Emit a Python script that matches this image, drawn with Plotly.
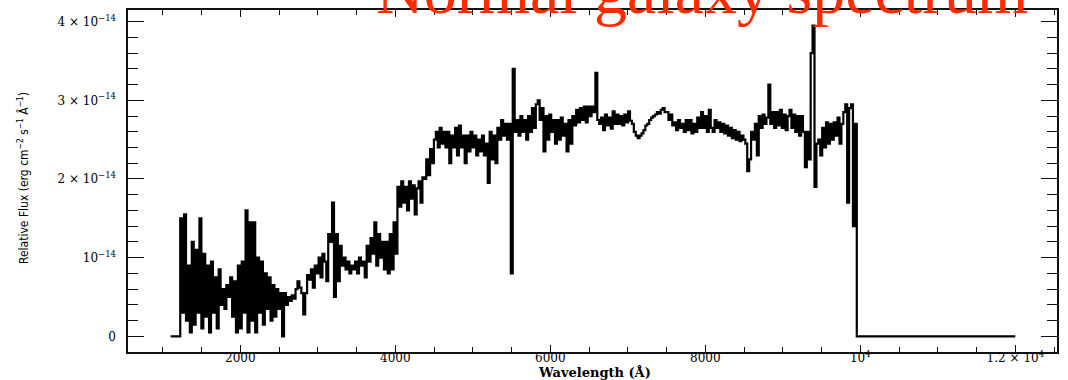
import plotly.graph_objects as go

# ---------------- data (flux in units of 1e-14 erg cm^-2 s^-1 A^-1) ----------------
WL_START = 1225.0      # first binned wavelength (A)
WL_STEP = 24.8         # bin width (A)
LEAD_WL, LEAD_FLUX = 1100.0, 0.0
TAIL_WL, TAIL_FLUX = 12000.0, 0.0

FLUX_UV = [
    1.5, 0.3, 1.55, 0.2, 0.9, 0.05, 1.2, 0.15, 1.1, 0.3,
    1.5, 0.1, 1.05, 0.25, 0.9, 0.05, 0.95, 0.3, 0.75, 0.1,
    0.85, 0.4, 0.6, 0.35, 0.65, 0.5, 0.75, 0.25, 0.7, 0.05,
    0.9, 0.1, 0.95, 0.3, 1.6, 0.05, 1.45, 0.2, 1.45, 0.05,
    1.0, 0.3, 0.95, 0.15, 0.8, 0.35, 0.75, 0.2, 0.65, 0.25,
    0.6, 0.35, 0.55, 0.0, 0.55, 0.4, 0.5,
]
FLUX_NUV = [0.45, 0.52, 0.48, 0.6, 0.7, 0.62, 0.55, 0.28, 0.55, 0.78, 0.72, 0.85, 0.62, 0.9, 0.8, 1.0]
FLUX_BLUE = [
    0.75, 1.05, 0.95, 0.7, 1.3, 1.2, 1.7, 0.5, 1.3, 0.7,
    1.15, 0.9, 1.0, 0.85, 0.95, 0.8, 0.9, 0.85, 0.95, 0.8,
    1.0, 0.9, 0.95, 0.75, 1.15, 0.95, 1.25, 1.05, 1.45, 0.9,
    1.3, 1.0, 1.2, 0.85, 1.2, 0.8, 1.3, 0.85, 1.45, 1.05,
]
FLUX_BREAK = [
    1.9, 1.65, 1.97, 1.7, 1.9, 1.6, 1.97, 1.75, 1.92, 1.55,
    1.88, 1.97, 1.7, 2.02, 2.0, 2.25, 2.05, 2.38, 2.2, 2.5,
]
FLUX_GREEN = [
    2.6, 2.4, 2.65, 2.45, 2.6, 2.4, 2.6, 2.2, 2.55, 2.4,
    2.65, 2.3, 2.68, 2.4, 2.55, 2.2, 2.55, 2.35, 2.6, 2.4,
    2.55, 2.3, 2.5, 2.35, 2.55, 2.3, 2.45, 1.95, 2.6, 2.25,
    2.55, 2.2, 2.65, 2.5, 2.75, 2.55, 2.7, 2.5, 2.7, 0.8,
    3.4, 2.6,
]
FLUX_RED = [
    2.75, 2.55, 2.8, 2.6, 2.75, 2.5, 2.8, 2.6, 2.9, 2.65,
    2.95, 3.0, 2.75, 2.9, 2.35, 2.8, 2.5, 2.82, 2.6, 2.75,
    2.45, 2.75, 2.5, 2.78, 2.55, 2.7, 2.35, 2.75, 2.45, 2.8,
    2.68, 2.88, 2.72, 2.9, 2.75, 2.92, 2.72, 2.92, 2.8, 2.92,
    2.85, 3.35, 2.75,
]
FLUX_FARRED = [
    2.7, 2.78, 2.62, 2.82, 2.68, 2.78, 2.64, 2.86, 2.7, 2.82,
    2.7, 2.8, 2.68, 2.82, 2.72, 2.86, 2.74, 2.7, 2.6, 2.55,
    2.52, 2.55, 2.58, 2.62, 2.68, 2.7, 2.75, 2.78, 2.8, 2.82,
    2.85, 2.83, 2.88, 2.9, 2.85,
]
FLUX_NIR1 = [
    2.85, 2.75, 2.82, 2.68, 2.72, 2.62, 2.75, 2.65, 2.7, 2.6,
    2.75, 2.62, 2.75, 2.58, 2.7, 2.6, 2.78, 2.65, 2.85, 2.65,
    2.8, 2.6, 2.88, 2.65, 2.6, 2.75, 2.65, 2.72, 2.6, 2.7,
    2.58, 2.68, 2.55, 2.65, 2.52, 2.62, 2.5, 2.6, 2.48, 2.55,
]
FLUX_NIR2 = [
    2.5, 2.45, 2.1, 2.25, 2.6, 2.5, 2.7, 2.3, 2.8, 2.65,
    2.82, 2.7, 2.78, 3.2, 2.7, 2.85, 2.65, 2.85, 2.68, 2.88,
    2.65, 2.82, 2.62, 2.8, 2.88, 2.65, 2.82, 2.6, 2.8, 2.55,
    2.8, 2.6, 2.15, 2.6, 2.25, 3.6, 3.95, 1.9, 2.45, 2.5,
    2.3, 2.65, 2.4, 2.72, 2.45, 2.7, 2.5, 2.72, 2.55, 2.78,
    2.45, 2.7, 2.85, 2.95, 1.7, 2.9, 2.95, 1.4, 2.7, 0.0,
]

X_TICKS = [2000, 4000, 6000, 8000, 10000, 12000]
X_TICK_LABELS = ["2000", "4000", "6000", "8000", "10<sup>4</sup>", "1.2 × 10<sup>4</sup>"]
Y_TICKS = [0, 1, 2, 3, 4]
Y_TICK_LABELS = ["0", "10<sup>−14</sup>", "2 × 10<sup>−14</sup>",
                 "3 × 10<sup>−14</sup>", "4 × 10<sup>−14</sup>"]

TITLE = "Normal galaxy spectrum"
X_TITLE = "<b>Wavelength (Å)</b>"
Y_TITLE = "Relative Flux (erg cm<sup>−2</sup> s<sup>−1</sup> Å<sup>−1</sup>)"

# ---------------- build ----------------
flux = (FLUX_UV + FLUX_NUV + FLUX_BLUE + FLUX_BREAK + FLUX_GREEN
        + FLUX_RED + FLUX_FARRED + FLUX_NIR1 + FLUX_NIR2)
wl = [WL_START + WL_STEP * i for i in range(len(flux))]
xs = [LEAD_WL] + wl + [TAIL_WL]
ys = [LEAD_FLUX] + flux + [TAIL_FLUX]

W, H = 1068, 380
ML, MR, MT, MB = 128, 11, 8, 28
PW, PH = W - ML - MR, H - MT - MB

def px(xpix):
    return (xpix - ML) / PW

def py(ypix):
    return 1 - (ypix - MT) / PH

fig = go.Figure(go.Scatter(
    x=xs, y=ys, mode="lines", line=dict(color="black", width=2.2, shape="hv"),
    hoverinfo="skip", showlegend=False))

axis_common = dict(
    showline=True, linecolor="#111", linewidth=1.6, mirror="ticks",
    ticks="inside", tickcolor="#111", tickwidth=1.2,
    showgrid=False, zeroline=False,
    tickfont=dict(family="DejaVu Serif", size=12, color="black"),
)

fig.update_layout(
    width=W, height=H, autosize=False,
    margin=dict(l=ML, r=MR, t=MT, b=MB, pad=0),
    paper_bgcolor="white", plot_bgcolor="white",
    xaxis=dict(axis_common, range=[551, 12538], tickvals=X_TICKS, ticktext=X_TICK_LABELS,
               ticklen=7, ticklabelstandoff=-6,
               minor=dict(ticks="inside", ticklen=5, dtick=500, tick0=0,
                          tickcolor="#111", tickwidth=1.2, showgrid=False)),
    yaxis=dict(axis_common, range=[-0.199, 4.148], tickvals=Y_TICKS, ticktext=Y_TICK_LABELS,
               ticklen=16, ticklabelstandoff=8,
               minor=dict(ticks="inside", ticklen=10, dtick=0.2, tick0=0,
                          tickcolor="#111", tickwidth=1.2, showgrid=False)),
    annotations=[
        dict(text=TITLE, xref="paper", yref="paper", x=px(702), y=py(-12),
             xanchor="center", yanchor="middle", showarrow=False,
             font=dict(family="Liberation Serif", size=66, color="#ff2a00")),
        dict(text=X_TITLE, xref="paper", yref="paper", x=px(594), y=py(373),
             xanchor="center", yanchor="middle", showarrow=False, borderpad=0,
             font=dict(family="DejaVu Serif", size=13, color="black")),
        dict(text=Y_TITLE, xref="paper", yref="paper", x=px(23), y=py(177),
             xanchor="center", yanchor="middle", showarrow=False, textangle=-90,
             font=dict(family="Liberation Sans Narrow, DejaVu Sans Condensed, sans-serif",
                       size=12, color="black")),
    ],
)

fig.write_html("out.html")
